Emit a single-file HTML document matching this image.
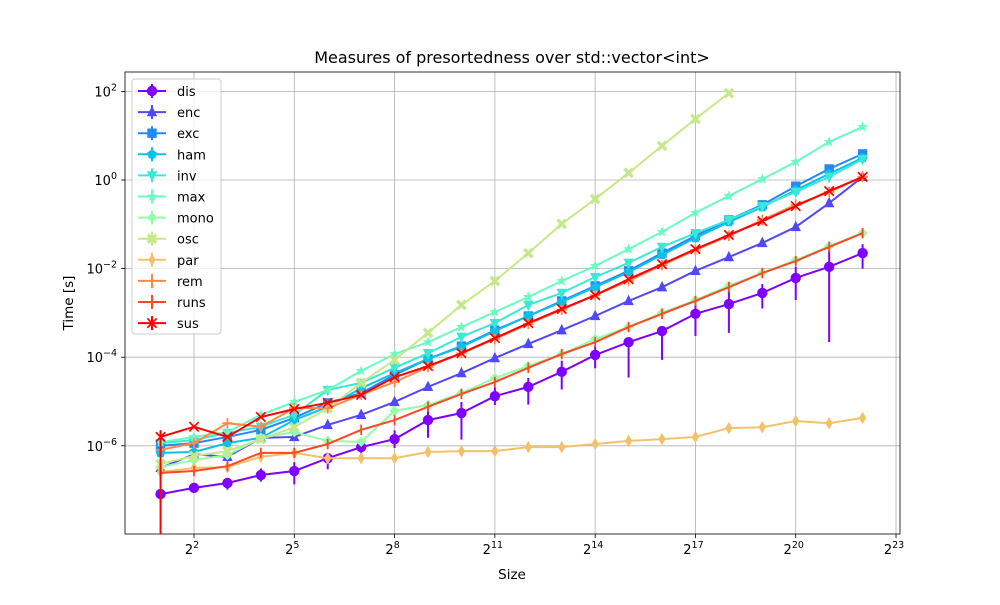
<!DOCTYPE html>
<html><head><meta charset="utf-8"><style>
body{margin:0;background:#fff;font-family:"Liberation Sans","DejaVu Sans",sans-serif}
svg text{font-family:"DejaVu Sans","Liberation Sans",sans-serif}
</style></head><body>
<svg id="chart" width="1000" height="600" xmlns="http://www.w3.org/2000/svg"></svg>
<script>
const exps=[1,2,3,4,5,6,7,8,9,10,11,12,13,14,15,16,17,18,19,20,21,22];
const names=["dis","enc","exc","ham","inv","max","mono","osc","par","rem","runs","sus"];
// log10(time in seconds)
const dis=[-7.09,-6.95,-6.84,-6.66,-6.57,-6.28,-6.03,-5.85,-5.42,-5.26,-4.88,-4.67,-4.33,-3.95,-3.66,-3.41,-3.02,-2.80,-2.55,-2.21,-1.96,-1.65];
const enc=[-6.50,-6.19,-6.25,-5.82,-5.80,-5.53,-5.30,-5.01,-4.67,-4.36,-4.02,-3.70,-3.39,-3.07,-2.73,-2.42,-2.05,-1.74,-1.42,-1.06,-0.52,0.07];
const exc=[-6.00,-5.94,-5.80,-5.64,-5.37,-5.03,-4.81,-4.40,-4.04,-3.75,-3.39,-3.07,-2.73,-2.39,-2.05,-1.65,-1.26,-0.90,-0.56,-0.14,0.25,0.59];
const ham=[-6.16,-6.14,-5.94,-5.82,-5.42,-5.12,-4.70,-4.36,-4.04,-3.77,-3.41,-3.07,-2.75,-2.42,-2.08,-1.69,-1.31,-0.95,-0.61,-0.23,0.14,0.50];
const inv=[-5.94,-5.87,-5.71,-5.57,-5.30,-4.74,-4.58,-4.24,-3.91,-3.54,-3.23,-2.82,-2.55,-2.19,-1.87,-1.51,-1.20,-0.90,-0.59,-0.27,0.07,0.47];
const maxv=[-5.92,-5.80,-5.69,-5.30,-5.01,-4.74,-4.31,-3.93,-3.66,-3.32,-2.98,-2.64,-2.28,-1.94,-1.56,-1.17,-0.74,-0.36,0.02,0.41,0.86,1.20];
const mono=[-6.48,-6.32,-6.21,-5.82,-5.69,-5.89,-5.91,-5.21,-5.08,-4.81,-4.47,-4.20,-3.93,-3.59,-3.32,-3.00,-2.71,-2.39,-2.10,-1.81,-1.49,-1.20];
const osc=[-6.41,-6.23,-6.12,-5.85,-5.58,-5.15,-4.58,-4.06,-3.45,-2.82,-2.28,-1.65,-0.99,-0.43,0.16,0.77,1.38,1.96];
const par=[-6.59,-6.50,-6.48,-6.25,-6.16,-6.28,-6.28,-6.28,-6.14,-6.12,-6.12,-6.03,-6.03,-5.96,-5.89,-5.85,-5.80,-5.60,-5.58,-5.44,-5.49,-5.37];
const rem=[-6.09,-5.94,-5.49,-5.57,-5.15,-5.15,-4.85,-4.56,-4.22,-3.91,-3.59,-3.25,-2.93,-2.60,-2.28,-1.92,-1.58,-1.26,-0.90,-0.56,-0.27,0.07];
const runs=[-6.61,-6.57,-6.46,-6.16,-6.16,-5.96,-5.64,-5.42,-5.12,-4.83,-4.56,-4.24,-3.93,-3.66,-3.32,-3.02,-2.73,-2.42,-2.10,-1.83,-1.51,-1.20];
const sus=[-5.80,-5.57,-5.80,-5.35,-5.17,-5.03,-4.85,-4.45,-4.20,-3.91,-3.57,-3.23,-2.91,-2.60,-2.24,-1.90,-1.56,-1.24,-0.93,-0.59,-0.25,0.07];
// dis error bars (log10 extents below / above)
const disErrLo=[0.2,0.1,0.15,0.15,0.3,0.25,0.25,0.2,0.4,0.6,0.2,0.4,0.4,0.3,0.8,0.65,0.5,0.65,0.35,0.5,1.7,0.35];
const disErrHi=[0.1,0.1,0.1,0.15,0.2,0.1,0.2,0.2,0.25,0.25,0.2,0.2,0.25,0.2,0.1,0.1,0.3,0.3,0.2,0.25,0.4,0.2];
const xTicks=[2,5,8,11,14,17,20,23];
const yTicks=[2,0,-2,-4,-6];

const series=[dis,enc,exc,ham,inv,maxv,mono,osc,par,rem,runs,sus];
const colors=["#8000ff","#5148fc","#238af5","#0bc1e8","#3ae8d6","#68fcc1","#97fca7","#c5e88a","#f3c16a","#ff8a48","#ff4824","#ff0000"];
const markers=["o","^","s","p","v","star","D","X","d","+","|","x"];
const L=125,R=900,T=72,B=534;
const X=e=>194+(e-2)*33.43;
const Y=l=>180-l*44.3;
const ns="http://www.w3.org/2000/svg";
const svg=document.getElementById('chart');
function mk(tag,at,parent){const e=document.createElementNS(ns,tag);for(const k in at)e.setAttribute(k,at[k]);(parent||svg).appendChild(e);return e;}

const grid=mk('g',{});


xTicks.forEach(e=>{const x=X(e);if(x<R)mk('line',{x1:x,x2:x,y1:T,y2:B,stroke:'#b0b0b0','stroke-width':0.8},grid);});
yTicks.forEach(l=>{mk('line',{x1:L,x2:R,y1:Y(l),y2:Y(l),stroke:'#b0b0b0','stroke-width':0.8},grid);});

const ax=mk('g',{});


xTicks.forEach(e=>{const x=X(e);mk('line',{x1:x,x2:x,y1:B,y2:B+4,stroke:'#000','stroke-width':0.8},ax);
 const t=mk('text',{x:x-2,y:B+20,'font-size':13,'text-anchor':'middle'},ax);
 
 
 t.innerHTML='2<tspan dy="-6" font-size="9.5">'+e+'</tspan>';});
yTicks.forEach(l=>{const y=Y(l);mk('line',{x1:L-4,x2:L,y1:y,y2:y,stroke:'#000','stroke-width':0.8},ax);
 const t=mk('text',{x:L-8,y:y+5,'font-size':13,'text-anchor':'end'},ax);
 
 
 const s=l<0?'\u2212'+(-l):''+l;
 t.innerHTML='10<tspan dy="-6" font-size="9.5">'+s+'</tspan>';});
mk('rect',{x:L,y:T,width:R-L,height:B-T,fill:'none',stroke:'#000','stroke-width':0.8},ax);

function marker(g,m,x,y,c){
 const s=5.2;
 switch(m){
 case 'o':mk('circle',{cx:x,cy:y,r:s,fill:c},g);break;
 case 's':mk('rect',{x:x-s*0.9,y:y-s*0.9,width:1.8*s,height:1.8*s,fill:c},g);break;
 case '^':mk('polygon',{points:`${x},${y-s*1.2} ${x-s},${y+s*0.8} ${x+s},${y+s*0.8}`,fill:c},g);break;
 case 'v':mk('polygon',{points:`${x},${y+s*1.2} ${x-s},${y-s*0.8} ${x+s},${y-s*0.8}`,fill:c},g);break;
 case 'p':{let p=[];for(let i=0;i<5;i++){const a=-Math.PI/2+i*2*Math.PI/5;p.push((x+s*Math.cos(a))+','+(y+s*Math.sin(a)));}mk('polygon',{points:p.join(' '),fill:c},g);break;}
 case 'star':{let p=[];for(let i=0;i<10;i++){const r=i%2?s*0.45:s*1.1;const a=-Math.PI/2+i*Math.PI/5;p.push((x+r*Math.cos(a))+','+(y+r*Math.sin(a)));}mk('polygon',{points:p.join(' '),fill:c},g);break;}
 case 'D':mk('polygon',{points:`${x},${y-s} ${x+s},${y} ${x},${y+s} ${x-s},${y}`,fill:c},g);break;
 case 'd':mk('polygon',{points:`${x},${y-s*1.2} ${x+s*0.7},${y} ${x},${y+s*1.2} ${x-s*0.7},${y}`,fill:c},g);break;
 case 'X':mk('path',{d:`M${x-s*0.8},${y-s*0.8}L${x+s*0.8},${y+s*0.8}M${x-s*0.8},${y+s*0.8}L${x+s*0.8},${y-s*0.8}`,stroke:c,'stroke-width':3.4},g);break;
 case '+':mk('path',{d:`M${x-s},${y}L${x+s},${y}M${x},${y-s}L${x},${y+s}`,stroke:c,'stroke-width':1.8},g);break;
 case '|':mk('path',{d:`M${x},${y-s}L${x},${y+s}`,stroke:c,'stroke-width':1.8},g);break;
 case 'x':mk('path',{d:`M${x-s*0.9},${y-s*0.9}L${x+s*0.9},${y+s*0.9}M${x-s*0.9},${y+s*0.9}L${x+s*0.9},${y-s*0.9}`,stroke:c,'stroke-width':1.7},g);break;
 }
}
const clip=mk('clipPath',{id:'pc'});mk('rect',{x:L,y:T,width:R-L,height:B-T},clip);
series.forEach((arr,si)=>{
 const g=mk('g',{'clip-path':'url(#pc)'});
 
 
 const c=colors[si];
 if(si===0){arr.forEach((v,i)=>mk('line',{x1:X(exps[i]),x2:X(exps[i]),y1:Y(v-disErrLo[i]),y2:Y(v+disErrHi[i]),stroke:c,'stroke-width':2},g));}
 if(si===11){mk('line',{x1:X(exps[0]),x2:X(exps[0]),y1:Y(arr[0]+0.15),y2:B+5,stroke:c,'stroke-width':2},g);}
 mk('polyline',{points:arr.map((v,i)=>X(exps[i])+','+Y(v)).join(' '),fill:'none',stroke:c,'stroke-width':2},g);
 arr.forEach((v,i)=>marker(g,markers[si],X(exps[i]),Y(v),c));
});

const lg=mk('g',{});


mk('rect',{x:132,y:79,width:89,height:255,rx:3,fill:'#fff','fill-opacity':0.8,stroke:'#ccc'},lg);
names.forEach((n,i)=>{const y=91+i*21.1;const e=mk('g',{},lg);
 
 
 mk('line',{x1:138,x2:166,y1:y,y2:y,stroke:colors[i],'stroke-width':2},e);
 mk('line',{x1:152,x2:152,y1:y-7,y2:y+7,stroke:colors[i],'stroke-width':2},e);
 marker(e,markers[i],152,y,colors[i]);
 const t=mk('text',{x:177,y:y+5,'font-size':13},e);t.textContent=n;});

const title=mk('text',{x:512,y:63,'font-size':16,'text-anchor':'middle'});


title.textContent='Measures of presortedness over std::vector<int>';
const xl=mk('text',{x:512,y:579,'font-size':13.5,'text-anchor':'middle'});


xl.textContent='Size';
const yl=mk('text',{x:73,y:303,'font-size':13.5,'text-anchor':'middle',transform:'rotate(-90 73 303)'});


yl.textContent='Time [s]';
</script>
</body></html>
